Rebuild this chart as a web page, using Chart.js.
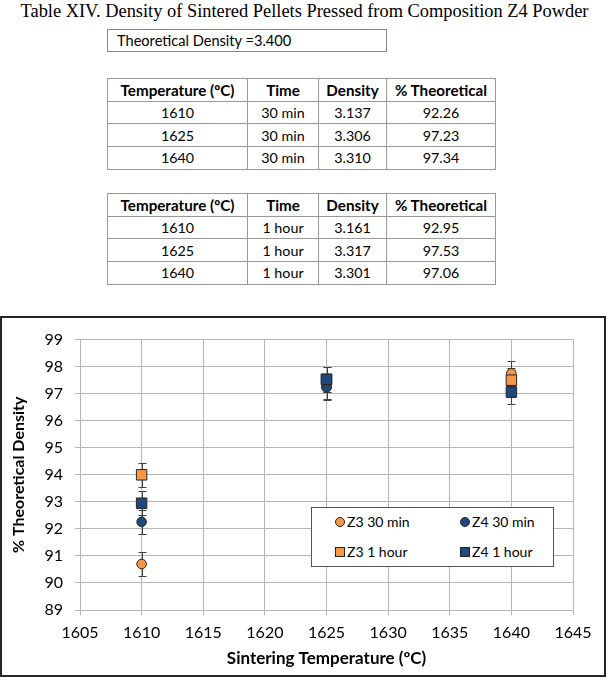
<!DOCTYPE html>
<html>
<head>
<meta charset="utf-8">
<script src="https://cdn.jsdelivr.net/npm/chart.js@4.4.1/dist/chart.umd.min.js"></script>
<style>
  html,body{margin:0;padding:0;background:#fff;}
  body{width:609px;height:685px;position:relative;overflow:hidden;font-family:Lato,"Noto Sans",sans-serif;}
  #title{position:absolute;left:0;top:1px;width:609px;text-align:center;font-family:"Liberation Serif","DejaVu Serif",serif;font-size:18.4px;color:#000;white-space:nowrap;}
  #td{position:absolute;left:107px;top:29px;width:280px;height:23px;border:1px solid #888;box-sizing:border-box;font-size:14.6px;line-height:21px;padding-left:9px;color:#000;}
  table.dt{position:absolute;left:107px;border-collapse:collapse;font-size:14.3px;color:#000;}
  table.dt td,table.dt th{border:1px solid #999;height:22.7px;padding:0;text-align:center;box-sizing:border-box;}
  table.dt th{font-weight:bold;font-size:15.2px;}
  #t1{top:78px;}
  #t2{top:193px;}
  #chartBox{position:absolute;left:0;top:316px;width:606px;height:361px;border:2px solid #262626;box-sizing:border-box;}
  #c{position:absolute;left:0;top:0;}
  #legend{position:absolute;left:309px;top:189px;width:243px;height:60px;border:1px solid #555;box-sizing:border-box;background:#fff;font-size:14px;color:#000;}
  .li{position:absolute;white-space:nowrap;line-height:16px;}
  .mk{display:inline-block;width:8px;height:8px;border:1px solid #262626;vertical-align:0px;margin-right:2px;}
</style>
</head>
<body>
<div id="title">Table XIV. Density of Sintered Pellets Pressed from Composition Z4 Powder</div>
<div id="td"></div>
<table class="dt" id="t1"></table>
<table class="dt" id="t2"></table>
<div id="chartBox"><canvas id="c" width="602" height="357"></canvas><div id="legend"></div></div>
<script>
// ---- Table data ----
const theoreticalDensity = "3.400";
const tableHeader = ["Temperature (ºC)", "Time", "Density", "% Theoretical"];
const colWidths = [140, 71, 68, 109];
const t1Temps = ["1610", "1625", "1640"];
const t1Times = ["30 min", "30 min", "30 min"];
const t1Density = ["3.137", "3.306", "3.310"];
const t1Pct = ["92.26", "97.23", "97.34"];
const t2Temps = ["1610", "1625", "1640"];
const t2Times = ["1 hour", "1 hour", "1 hour"];
const t2Density = ["3.161", "3.317", "3.301"];
const t2Pct = ["92.95", "97.53", "97.06"];

// ---- Chart data ----
const temps = [1610, 1625, 1640];
const z3_30min = [90.70, 97.25, 97.75];
const z4_30min = [92.26, 97.23, 97.34];
const z3_1hour = [94.00, 97.53, 97.50];
const z4_1hour = [92.95, 97.53, 97.06];
const z3_30minErr = [0.45, 0.45, 0.45];
const z4_30minErr = [0.45, 0.45, 0.45];
const z3_1hourErr = [0.45, 0.45, 0.45];
const z4_1hourErr = [0.45, 0.45, 0.45];
const seriesLabels = ["Z3 30 min", "Z4 30 min", "Z3 1 hour", "Z4 1 hour"];
const xTicks = [1605, 1610, 1615, 1620, 1625, 1630, 1635, 1640, 1645];
const yTicks = [89, 90, 91, 92, 93, 94, 95, 96, 97, 98, 99];

document.getElementById('td').textContent = "Theoretical Density =" + theoreticalDensity;

function buildTable(id, temps_, times_, dens_, pct_) {
  const t = document.getElementById(id);
  let h = '<tr>' + tableHeader.map((s,i)=>`<th style="width:${colWidths[i]}px">${s}</th>`).join('') + '</tr>';
  for (let i = 0; i < temps_.length; i++) {
    h += `<tr><td>${temps_[i]}</td><td>${times_[i]}</td><td>${dens_[i]}</td><td>${pct_[i]}</td></tr>`;
  }
  t.innerHTML = h;
}
buildTable('t1', t1Temps, t1Times, t1Density, t1Pct);
buildTable('t2', t2Temps, t2Times, t2Density, t2Pct);

const ORANGE = '#F79646', BLUE = '#1F497D', EDGE = '#262626', GRID = '#B5B5B5';
function pts(ys){ return temps.map((x,i)=>({x:x,y:ys[i]})); }

// later series are painted on top (as in the original): lower 'order' = drawn later
const datasets = [
  {label:seriesLabels[0], data:pts(z3_30min), err:z3_30minErr, pointStyle:'circle', pointRadius:4.8, backgroundColor:ORANGE},
  {label:seriesLabels[1], data:pts(z4_30min), err:z4_30minErr, pointStyle:'circle', pointRadius:4.8, backgroundColor:BLUE},
  {label:seriesLabels[2], data:pts(z3_1hour), err:z3_1hourErr, pointStyle:'rect', pointRadius:7.4, backgroundColor:ORANGE},
  {label:seriesLabels[3], data:pts(z4_1hour), err:z4_1hourErr, pointStyle:'rect', pointRadius:7.4, backgroundColor:BLUE}
].map((d,i,arr)=>Object.assign(d,{order:arr.length-1-i, borderColor:EDGE, pointBorderWidth:1, borderWidth:1, showLine:false, pointHoverRadius:d.pointRadius}));

const errorBars = {
  id:'errorBars',
  beforeDatasetsDraw(chart){
    const {ctx, scales:{x,y}} = chart;
    ctx.save();
    ctx.strokeStyle = '#404040';
    ctx.lineWidth = 1;
    chart.data.datasets.forEach(ds=>{
      ds.data.forEach((p,i)=>{
        const e = ds.err[i];
        const px = Math.round(x.getPixelForValue(p.x)) + 0.5;
        const yt = Math.round(y.getPixelForValue(p.y + e)) + 0.5;
        const yb = Math.round(y.getPixelForValue(p.y - e)) + 0.5;
        ctx.beginPath();
        ctx.moveTo(px, yt); ctx.lineTo(px, yb);
        ctx.moveTo(px-4, yt); ctx.lineTo(px+4, yt);
        ctx.moveTo(px-4, yb); ctx.lineTo(px+4, yb);
        ctx.stroke();
      });
    });
    ctx.restore();
  }
};

const FONT = 'Lato';
new Chart(document.getElementById('c').getContext('2d'), {
  type:'scatter',
  data:{datasets},
  plugins:[errorBars],
  options:{
    responsive:false, animation:false, devicePixelRatio:1,
    layout:{padding:{left:0, right:31, top:20, bottom:0}},
    plugins:{legend:{display:false}, tooltip:{enabled:false}},
    scales:{
      x:{type:'linear', min:1605, max:1645,
        afterBuildTicks(s){ s.ticks = xTicks.map(v=>({value:v})); },
        ticks:{font:{family:FONT,size:16}, color:'#000', padding:8, maxRotation:0, autoSkip:false, callback:v=>String(v)},
        grid:{color:GRID, tickLength:5, drawTicks:true},
        border:{color:GRID},
        title:{display:true, text:'Sintering Temperature (ºC)', font:{family:FONT,size:17,weight:'bold'}, color:'#000', padding:{top:0,bottom:6}},
        afterFit(s){ s.height = 65; }
      },
      y:{type:'linear', min:89, max:99,
        afterBuildTicks(s){ s.ticks = yTicks.map(v=>({value:v})); },
        ticks:{font:{family:FONT,size:16}, color:'#000', padding:12, callback:v=>String(v)},
        grid:{color:GRID, tickLength:5, drawTicks:true},
        border:{color:GRID},
        title:{display:true, text:'% Theoretical Density', font:{family:FONT,size:16,weight:'bold'}, color:'#000', padding:{top:7,bottom:0}},
        afterFit(s){ s.width = 78; }
      }
    }
  }
});

// HTML legend built from the datasets
const lg = document.getElementById('legend');
const legendPos = [[23,6],[148,6],[23,36],[148,36]];
datasets.forEach((d,i)=>{
  const el = document.createElement('div');
  el.className = 'li';
  el.style.left = legendPos[i][0] + 'px';
  el.style.top = legendPos[i][1] + 'px';
  const r = d.pointStyle === 'circle' ? 'border-radius:50%;' : '';
  el.innerHTML = `<span class="mk" style="background:${d.backgroundColor};${r}"></span>${d.label}`;
  lg.appendChild(el);
});
</script>
</body>
</html>
